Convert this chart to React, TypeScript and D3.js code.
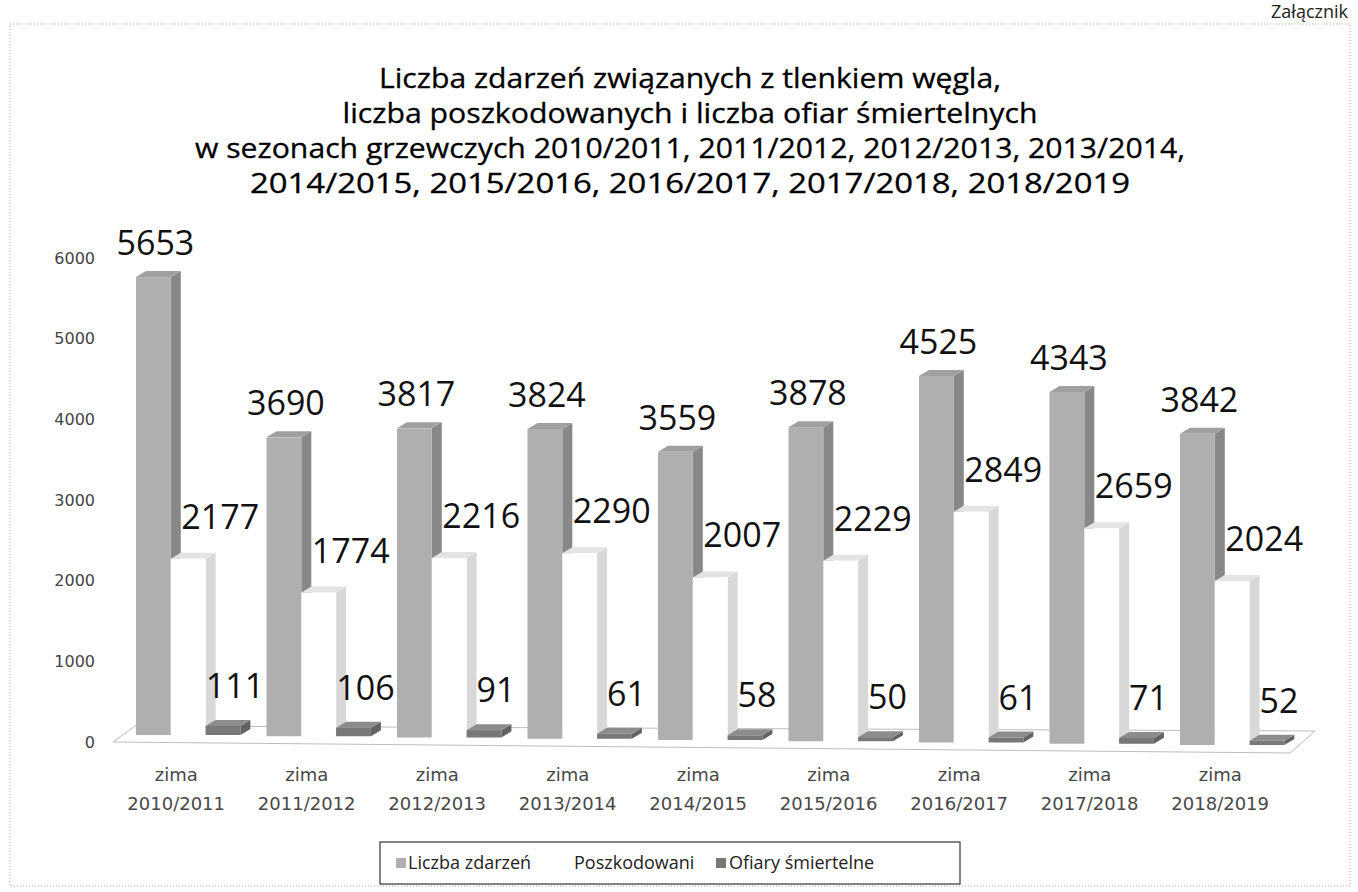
import React from "react";
import * as d3 from "d3";

const seasons = ["2010/2011","2011/2012","2012/2013","2013/2014","2014/2015","2015/2016","2016/2017","2017/2018","2018/2019"];
const seriesNames = ["Liczba zdarzeń", "Poszkodowani", "Ofiary śmiertelne"];
const liczbaZdarzen = [5653, 3690, 3817, 3824, 3559, 3878, 4525, 4343, 3842];
const poszkodowani = [2177, 1774, 2216, 2290, 2007, 2229, 2849, 2659, 2024];
const ofiary = [111, 106, 91, 61, 58, 50, 61, 71, 52];
const yTicks = [0, 1000, 2000, 3000, 4000, 5000, 6000];
const titleLines = [
  "Liczba zdarzeń związanych z tlenkiem węgla,",
  "liczba poszkodowanych i liczba ofiar śmiertelnych",
  "w sezonach grzewczych 2010/2011, 2011/2012, 2012/2013, 2013/2014,",
  "2014/2015, 2015/2016, 2016/2017, 2017/2018, 2018/2019",
];

const W = 1358, H = 892;
const series = [liczbaZdarzen, poszkodowani, ofiary];
const faces = [
  { front: "#afafaf", top: "#a0a0a0", side: "#888888" },
  { front: "#ffffff", top: "#e4e4e4", side: "#d8d8d8" },
  { front: "#787878", top: "#8c8c8c", side: "#626262" },
];
const labelDx = [2, 32, 12];
const labelDy = [22, 30, 28];
const titleWidths = [622, 695, 990, 880];

export default function App() {
  const x0 = d3.scaleBand<string>().domain(seasons).range([136, 136 + 130.5 * 8.8]).paddingInner(0.2).paddingOuter(0);
  const x1 = d3.scaleBand<string>().domain(seriesNames).range([0, x0.bandwidth()]).padding(0);
  const h = d3.scaleLinear().domain([0, 6000]).range([0, 486]);
  const base = d3.scaleLinear().domain([0, seasons.length - 1]).range([735, 745]);
  const yAxis = d3.scaleLinear().domain([0, 6000]).range([742, 258]);
  const dx = 10, dy = -6;
  const bw = x1.bandwidth();

  const bars: React.ReactNode[] = [];
  const labels: React.ReactNode[] = [];
  seasons.forEach((s, i) => {
    const b = base(i);
    seriesNames.forEach((name, k) => {
      const v = series[k][i];
      const x = (x0(s) as number) + (x1(name) as number);
      const top = b - h(v);
      const f = faces[k];
      const topPts = [[x, top], [x + dx, top + dy], [x + bw + dx, top + dy], [x + bw, top]];
      const sidePts = [[x + bw, top], [x + bw + dx, top + dy], [x + bw + dx, b + dy], [x + bw, b]];
      bars.push(
        <g key={`${i}-${k}`}>
          <polygon points={sidePts.map(p => p.join(",")).join(" ")} fill={f.side} />
          <polygon points={topPts.map(p => p.join(",")).join(" ")} fill={f.top} />
          <rect x={x} y={top} width={bw} height={b - top} fill={f.front} />
        </g>
      );
      labels.push(
        <text key={`l${i}-${k}`} x={x + bw / 2 + labelDx[k]} y={top - labelDy[k]} textAnchor="middle"
          fontFamily="'Open Sans', sans-serif" fontSize={34} fill="#111">{v}</text>
      );
    });
  });

  const floorFL = [113, 742], floorFR = [1290, 753], floorBR = [1315, 731], floorBL = [135, 726];

  const legendItems = [
    { name: seriesNames[0], color: faces[0].front, x: 396, tx: 408 },
    { name: seriesNames[1], color: null, x: 562, tx: 574 },
    { name: seriesNames[2], color: faces[2].front, x: 716, tx: 729 },
  ];

  return (
    <svg width={W} height={H} style={{ position: "absolute", left: 0, top: 0, background: "#fff" }}>
      <rect x={0} y={0} width={W} height={H} fill="#ffffff" />
      <text x={1348} y={18} textAnchor="end" fontFamily="'Open Sans', sans-serif" fontSize={18} fill="#222">Załącznik</text>
      <rect x={10} y={24} width={1340} height={862} fill="none" stroke="#aaa" strokeWidth={1} strokeDasharray="1,2" />
      {titleLines.map((t, i) => (
        <text key={t} x={690} y={88 + i * 35} textAnchor="middle" fontFamily="'Open Sans', sans-serif" fontSize={27}
          fill="#000" stroke="#000" strokeWidth={0.3} textLength={titleWidths[i]} lengthAdjust="spacingAndGlyphs">{t}</text>
      ))}
      {yTicks.map(t => (
        <text key={t} x={95} y={yAxis(t)} textAnchor="end" dominantBaseline="central"
          fontFamily="'DejaVu Sans', sans-serif" fontSize={16} fill="#444">{t}</text>
      ))}
      <polygon points={[floorFL, floorFR, floorBR, floorBL].map(p => p.join(",")).join(" ")} fill="#fff" stroke="#bdbdbd" strokeWidth={1} />
      {bars}
      {labels}
      {seasons.map((s, i) => {
        const cx = (x0(s) as number) + x0.bandwidth() / 2 - 12;
        return (
          <g key={s} fontFamily="'DejaVu Sans', sans-serif" fontSize={18} fill="#484848" textAnchor="middle">
            <text x={cx} y={781}>zima</text>
            <text x={cx} y={810}>{s}</text>
          </g>
        );
      })}
      <rect x={380} y={842} width={580} height={42} fill="#fff" stroke="#333" strokeWidth={1.2} />
      {legendItems.map(it => (
        <g key={it.name}>
          {it.color && <rect x={it.x} y={858} width={10} height={10} fill={it.color} />}
          <text x={it.tx} y={869} fontFamily="'Open Sans', sans-serif" fontSize={18} fill="#222">{it.name}</text>
        </g>
      ))}
    </svg>
  );
}
